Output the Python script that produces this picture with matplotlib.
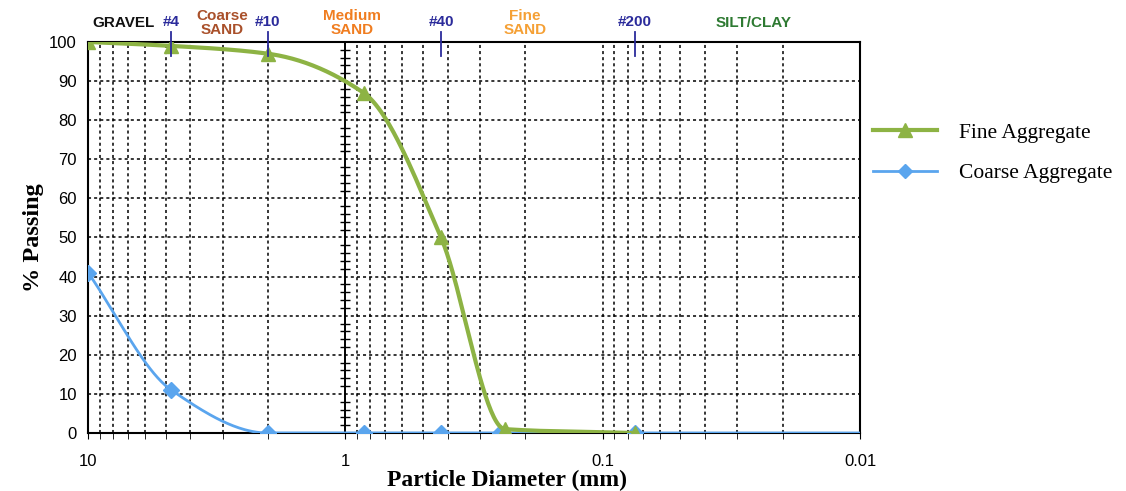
import numpy as np
import matplotlib
matplotlib.use("Agg")
import matplotlib.pyplot as plt
from matplotlib.lines import Line2D

# sieve sizes (mm) and percent passing
fine_size = [10, 4.75, 2.0, 0.85, 0.425, 0.24, 0.075]
fine_pass = [100, 99, 97, 87, 50, 1, 0]
coarse_size = [10, 4.75, 2.0, 0.85, 0.425, 0.25, 0.075, 0.01]
coarse_pass = [41, 11, 0, 0, 0, 0, 0, 0]

sieve_names = ["#4", "#10", "#40", "#200"]
sieve_sizes = [4.75, 2.0, 0.425, 0.075]

zone_names = ["GRAVEL", "Coarse\nSAND", "Medium\nSAND", "Fine\nSAND", "SILT/CLAY"]
zone_pos = [7.3, 3.0, 0.94, 0.20, 0.026]
zone_colors = ["#111111", "#A9502A", "#F07D20", "#F5A035", "#2E7A32"]


def pchip(x, y, xs):
    # monotone cubic interpolation, x must be increasing
    x = np.asarray(x, float)
    y = np.asarray(y, float)
    h = np.diff(x)
    d = np.diff(y) / h
    m = np.zeros_like(y)
    for k in range(1, len(x) - 1):
        if d[k - 1] * d[k] > 0:
            w1 = 2 * h[k] + h[k - 1]
            w2 = h[k] + 2 * h[k - 1]
            m[k] = (w1 + w2) / (w1 / d[k - 1] + w2 / d[k])
    m[0] = d[0]
    m[-1] = d[-1]
    out = np.empty_like(xs)
    for i, v in enumerate(xs):
        k = min(max(np.searchsorted(x, v) - 1, 0), len(x) - 2)
        t = (v - x[k]) / h[k]
        h00 = 2 * t**3 - 3 * t**2 + 1
        h10 = t**3 - 2 * t**2 + t
        h01 = -2 * t**3 + 3 * t**2
        h11 = t**3 - t**2
        out[i] = h00 * y[k] + h10 * h[k] * m[k] + h01 * y[k + 1] + h11 * h[k] * m[k + 1]
    return out


def smooth(sizes, vals):
    lx = np.log10(sizes)[::-1]
    vy = np.asarray(vals, float)[::-1]
    xs = np.linspace(lx[0], lx[-1], 400)
    return 10 ** xs, pchip(lx, vy, xs)


green = "#8DB344"
blue = "#5AA5EE"

fig = plt.figure(figsize=(11.26, 4.91), dpi=100)
ax = fig.add_axes([0.0782, 0.1181, 0.6856, 0.7964])

ax.set_xscale("log")
ax.set_xlim(10, 0.01)
ax.set_ylim(0, 100)

# grid
for dec in [1, 0.1, 0.01]:
    for m in range(2, 10):
        ax.axvline(dec * m, color="black", ls=(0, (2, 2)), lw=1.1, zorder=1)
ax.axvline(0.1, color="black", ls=(0, (2, 2)), lw=1.1, zorder=1)
ax.axvline(1, color="black", lw=1.4, zorder=1)
for yv in range(10, 100, 10):
    ax.axhline(yv, color="black", ls=(0, (2, 2)), lw=1.1, zorder=1)
minor_y = [v for v in range(2, 100, 2) if v % 10]
ax.plot([1] * len(minor_y), minor_y, ls="none",
        marker="_", ms=7, mew=1, color="black", zorder=2)

# curves
xs, ys = smooth(coarse_size, coarse_pass)
ax.plot(xs, ys, color=blue, lw=2, zorder=3)
ax.plot(coarse_size[:-1], coarse_pass[:-1], ls="none", marker="D", ms=8,
        color=blue, zorder=4)
xs, ys = smooth(fine_size, fine_pass)
ax.plot(xs, ys, color=green, lw=3, zorder=5)
ax.plot(fine_size, fine_pass, ls="none", marker="^", ms=10, color=green,
        zorder=6)

# sieve markers on top border
for name, s in zip(sieve_names, sieve_sizes):
    ax.plot([s, s], [96.5, 102.5], color="#2B2B9B", lw=1.3, clip_on=False,
            zorder=7)
    ax.text(s, 103.3, name, ha="center", va="bottom", color="#2B2B9B",
            fontsize=11, family="Liberation Sans", fontweight="bold")
for name, p, c in zip(zone_names, zone_pos, zone_colors):
    yy = 101.3 if "\n" in name else 103
    ax.text(p, yy, name, ha="center", va="bottom", color=c, fontsize=11,
            family="Liberation Sans", fontweight="bold", linespacing=0.95)

ax.set_xticks([10, 1, 0.1, 0.01])
ax.set_xticklabels(["10", "1", "0.1", "0.01"])
ax.set_yticks(range(0, 101, 10))
ax.tick_params(axis="x", which="both", direction="out", length=4,
               labelsize=12, pad=11)
ax.tick_params(axis="y", length=0, labelsize=12, pad=8)
for lab in ax.get_xticklabels() + ax.get_yticklabels():
    lab.set_family("Liberation Sans")
for sp in ax.spines.values():
    sp.set_linewidth(1.5)

ax.set_xlabel("Particle Diameter (mm)", family="Liberation Serif",
              fontweight="bold", fontsize=17)
ax.xaxis.set_label_coords(0.543, -0.095)
ax.set_ylabel("% Passing", family="Liberation Serif", fontweight="bold",
              fontsize=17.5, labelpad=4)

handles = [
    Line2D([], [], color=green, lw=3, marker="^", ms=10, markevery=[0]),
    Line2D([], [], color=blue, lw=2, marker="D", ms=7, markevery=[1]),
]
fig.legend(handles, ["Fine Aggregate", "Coarse Aggregate"],
           loc="upper left", bbox_to_anchor=(0.758, 0.79), frameon=False,
           prop={"family": "Liberation Serif", "size": 15.5},
           handlelength=3.0, handletextpad=1.0, labelspacing=0.95)

fig.savefig("out.png", dpi=100)
